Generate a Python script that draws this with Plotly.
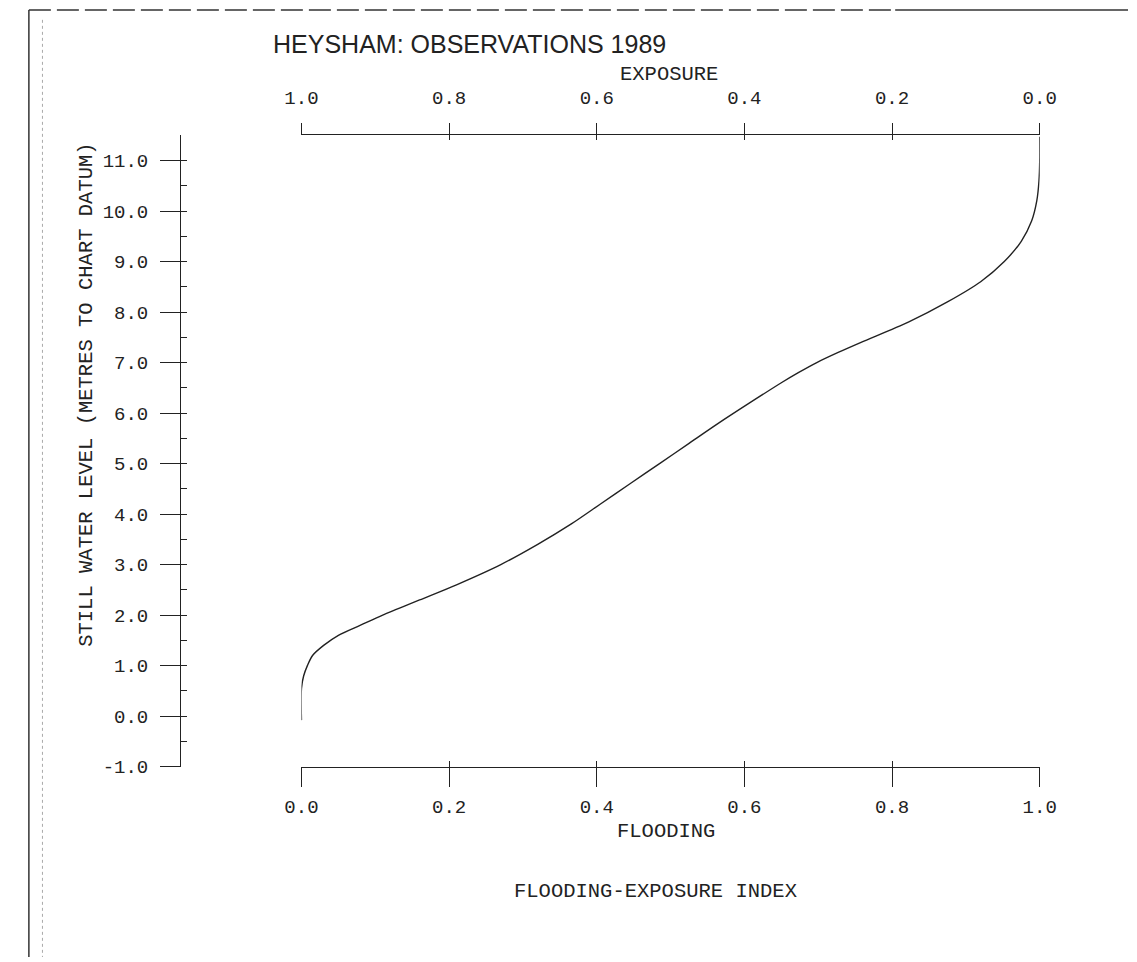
import plotly.graph_objects as go

# ---- data ----
level = [-0.08, 0.55, 0.8, 1.0, 1.2, 1.4, 1.6, 1.8, 2.0, 2.3, 2.6, 3.0, 3.4, 3.8,
         4.2, 4.6, 5.0, 5.4, 5.8, 6.2, 6.6, 6.8, 7.0, 7.2, 7.4, 7.8, 8.2, 8.6, 9.0, 9.4,
         9.8, 10.2, 10.6, 11.0, 11.47]
flooding = [0.0, 0.0, 0.003, 0.008, 0.015, 0.03, 0.05, 0.08, 0.11, 0.16, 0.21, 0.27,
            0.32, 0.365, 0.405, 0.445, 0.485, 0.525, 0.565, 0.607, 0.650, 0.673, 0.698,
            0.727, 0.758, 0.822, 0.875, 0.92, 0.952, 0.975, 0.989, 0.996, 0.999, 1.0, 1.0]

y_tickvals = [-1, 0, 1, 2, 3, 4, 5, 6, 7, 8, 9, 10, 11]
y_ticktext = ["-1.0", "0.0", "1.0", "2.0", "3.0", "4.0", "5.0", "6.0", "7.0",
              "8.0", "9.0", "10.0", "11.0"]
x_tickvals = [0.0, 0.2, 0.4, 0.6, 0.8, 1.0]
x_ticktext = ["0.0", "0.2", "0.4", "0.6", "0.8", "1.0"]
minor_y = [v / 2 for v in range(-2, 24)]

title_text = "HEYSHAM: OBSERVATIONS 1989"
ytitle_text = "STILL WATER LEVEL (METRES TO CHART DATUM)"

# ---- layout geometry (page body has an 8px margin) ----
W, H = 1137, 962
OFF = 8
def px(x):
    return (x - OFF) / W
def py(y):
    return 1 - (y - OFF) / H

INK = "#222222"
MONO_FAMILY = "Liberation Mono, DejaVu Sans Mono, monospace"
TICKFONT = dict(family=MONO_FAMILY, size=19, color=INK)
LABELFONT = dict(family=MONO_FAMILY, size=20.5, color=INK)
LW = 1.3

xdom = [px(293), px(1054)]
ydom = [py(777), py(137)]

fig = go.Figure()
fig.add_trace(go.Scatter(x=flooding, y=level, mode="lines",
                         line=dict(color=INK, width=1.4, shape="spline", smoothing=0.8),
                         xaxis="x", yaxis="y", hoverinfo="skip", showlegend=False))
for xa, ya in [("x2", "y"), ("x3", "y2"), ("x4", "y2")]:
    fig.add_trace(go.Scatter(x=[None], y=[None], xaxis=xa, yaxis=ya,
                             showlegend=False, hoverinfo="skip"))

common_x = dict(domain=xdom, showgrid=False, zeroline=False, fixedrange=True)

fig.update_layout(
    width=W, height=H,
    margin=dict(l=0, r=0, t=0, b=0),
    paper_bgcolor="white", plot_bgcolor="rgba(0,0,0,0)",
    showlegend=False,
    xaxis=dict(**common_x, range=[0, 1], anchor="y", side="bottom",
               showline=True, linecolor=INK, linewidth=LW,
               ticks="outside", ticklen=19, tickwidth=LW, tickcolor=INK,
               tickvals=x_tickvals, ticktext=x_ticktext, tickfont=TICKFONT,
               ticklabelstandoff=3),
    xaxis3=dict(**common_x, range=[0, 1], anchor="y", side="bottom", overlaying="x",
                showline=False, ticks="inside", ticklen=6, tickwidth=LW,
                tickcolor=INK, tickvals=x_tickvals, showticklabels=False),
    xaxis2=dict(**common_x, range=[1, 0], anchor="y", side="top", overlaying="x",
                showline=True, linecolor=INK, linewidth=LW,
                ticks="outside", ticklen=11, tickwidth=LW, tickcolor=INK,
                tickvals=x_tickvals, ticktext=x_ticktext, tickfont=TICKFONT,
                ticklabelstandoff=12),
    xaxis4=dict(**common_x, range=[1, 0], anchor="y", side="top", overlaying="x",
                showline=False, ticks="inside", ticklen=5, tickwidth=LW,
                tickcolor=INK, tickvals=x_tickvals, showticklabels=False),
    yaxis=dict(domain=ydom, range=[-1, 11.5], anchor="free", position=px(168),
               showgrid=False, zeroline=False, fixedrange=True,
               showline=True, linecolor=INK, linewidth=LW,
               ticks="outside", ticklen=20, tickwidth=LW, tickcolor=INK,
               tickvals=y_tickvals, ticktext=y_ticktext, tickfont=TICKFONT,
               ticklabelstandoff=8),
    yaxis2=dict(domain=ydom, range=[-1, 11.5], anchor="free", position=px(168),
                overlaying="y", showgrid=False, zeroline=False, fixedrange=True,
                showline=False, ticks="inside", ticklen=6, tickwidth=LW,
                tickcolor=INK, tickvals=minor_y, showticklabels=False),
)

annots = [
    dict(text=title_text, x=px(262), y=py(45), xanchor="left", yanchor="middle",
         font=dict(family="Liberation Sans, Arial, sans-serif", size=25, color=INK)),
    dict(text="EXPOSURE", x=px(672), y=py(75), xanchor="center", yanchor="middle",
         font=LABELFONT),
    dict(text="FLOODING", x=px(669), y=py(843), xanchor="center", yanchor="middle",
         font=LABELFONT),
    dict(text="FLOODING-EXPOSURE INDEX", x=px(658), y=py(904), xanchor="center",
         yanchor="middle", font=LABELFONT),
    dict(text=ytitle_text, x=px(72), y=py(400), xanchor="center", yanchor="middle",
         textangle=-90, font=LABELFONT),
]
for a in annots:
    fig.add_annotation(xref="paper", yref="paper", showarrow=False, **a)

# page frame from the scanned sheet
fig.add_shape(type="line", xref="paper", yref="paper", x0=px(12), x1=px(905), y0=py(10), y1=py(10),
              line=dict(color="#333", width=1.5, dash="22px,6px"))
fig.add_shape(type="line", xref="paper", yref="paper", x0=px(905), x1=1, y0=py(10), y1=py(10),
              line=dict(color="#333", width=1.5))
fig.add_shape(type="line", xref="paper", yref="paper", x0=px(12), x1=px(12), y0=py(10), y1=0,
              line=dict(color="#333", width=1.5))
fig.add_shape(type="line", xref="paper", yref="paper", x0=px(26), x1=px(26), y0=py(20), y1=0,
              line=dict(color="#aaa", width=1, dash="dot"))

fig.write_html("out.html")
